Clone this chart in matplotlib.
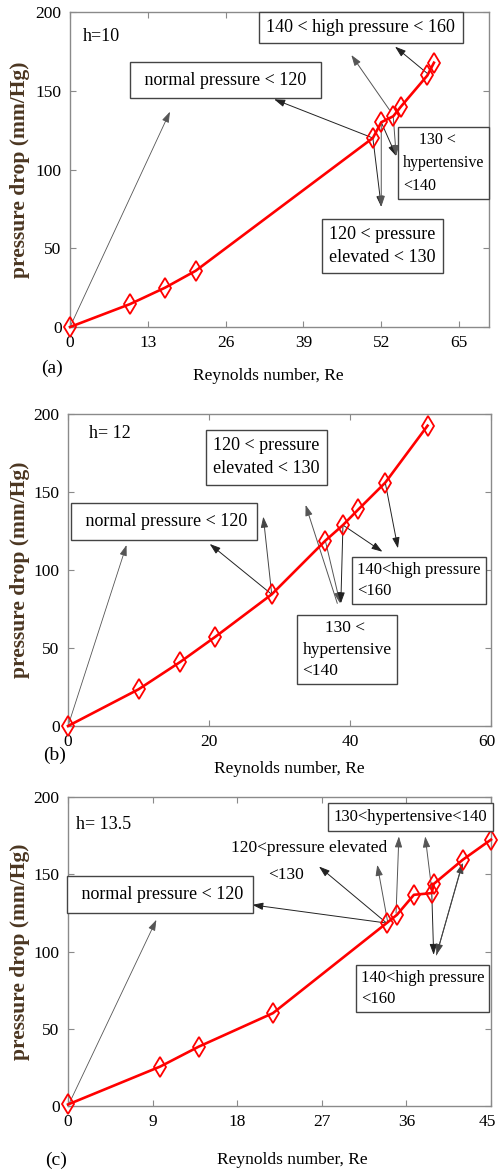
import matplotlib
matplotlib.use("Agg")
import matplotlib.pyplot as plt
from matplotlib.transforms import ScaledTranslation

plt.rcParams['font.family'] = ['Liberation Serif', 'DejaVu Serif']

# ---------------- data ----------------
re_a = [0, 10.0, 15.9, 21.0, 50.6, 52.0, 54.0, 55.3, 59.7, 60.8]
dp_a = [0, 14.5, 25.0, 35.7, 120.0, 130.0, 133.8, 140.0, 159.7, 167.8]

re_b = [0, 10.0, 15.9, 20.9, 28.9, 36.5, 39.0, 41.2, 45.0, 51.0]
dp_b = [0, 23.5, 41.0, 57.2, 84.4, 118.8, 128.8, 138.9, 156.0, 192.5]

re_c = [0, 9.8, 13.9, 21.8, 33.9, 35.0, 36.8, 38.7, 38.9, 42.0, 45.0]
dp_c = [1, 25.5, 38.4, 60.1, 118.4, 123.8, 136.7, 137.8, 143.7, 159.4, 172.4]

xticks_a = [0, 13, 26, 39, 52, 65]
xticks_b = [0, 20, 40, 60]
xticks_c = [0, 9, 18, 27, 36, 45]
yticks = [0, 50, 100, 150, 200]

h_labels = ["h=10", "h= 12", "h= 13.5"]
panel_labels = ["(a)", "(b)", "(c)"]
xlabel = "Reynolds number, Re"
ylabel = "pressure drop (mm/Hg)"

W, H = 498, 1173
fig = plt.figure(figsize=(W / 100, H / 100), dpi=100)

def px_axes(l, r, t, b):
    return fig.add_axes([l / W, 1 - b / H, (r - l) / W, (b - t) / H])

ax_a = px_axes(70, 489, 12, 327)
ax_b = px_axes(68, 491, 414, 726)
ax_c = px_axes(68, 491, 797, 1106)

spine_col = '#8a8a8a'
ycol = '#4b3621'
tick_fs = 12.5
box_fs = 13

def style(ax, x, y, xticks, xlim, nudge_last=False):
    ax.plot(x, y, color='red', lw=1.9, marker='d', markersize=10,
            markerfacecolor='none', markeredgecolor='red', markeredgewidth=1.3,
            clip_on=False, zorder=3)
    ax.set_xlim(*xlim)
    ax.set_ylim(0, 200)
    ax.set_xticks(xticks)
    ax.set_yticks(yticks)
    ax.tick_params(direction='in', length=4, width=0.8, color=spine_col,
                   top=True, right=True, labelsize=tick_fs, pad=6)
    for s in ax.spines.values():
        s.set_color(spine_col)
        s.set_linewidth(1.0)
    if nudge_last:
        lab = ax.xaxis.get_major_ticks()[-1].label1
        lab.set_transform(lab.get_transform() +
                          ScaledTranslation(-4 / 100, 0, fig.dpi_scale_trans))

style(ax_a, re_a, dp_a, xticks_a, (0, 70))
style(ax_b, re_b, dp_b, xticks_b, (0, 60), nudge_last=True)
style(ax_c, re_c, dp_c, xticks_c, (0, 45), nudge_last=True)

def bb(pad):
    return dict(boxstyle='square,pad=%s' % pad, facecolor='white',
                edgecolor='#444444', lw=1.0)

def arrow(ax, tail, head, col='#222222', lw=0.7):
    ax.annotate('', xy=head, xytext=tail,
                arrowprops=dict(arrowstyle='-|>,head_length=0.65,head_width=0.22',
                                color=col, lw=lw, shrinkA=0, shrinkB=0),
                annotation_clip=False, zorder=2)

def box(ax, x, y, s, fs=box_fs, pad=0.4, align='center', ls=1.35):
    ax.text(x, y, s, ha='center', va='center', fontsize=fs, bbox=bb(pad), zorder=4,
            linespacing=ls, multialignment=align)

# ---------------- panel (a) ----------------
ax = ax_a
ax.text(2.2, 184.5, h_labels[0], fontsize=13, va='center', ha='left')
box(ax, 48.6, 190.2, "140 < high pressure < 160")
box(ax, 26.0, 156.8, " normal pressure < 120 ", pad=0.55)
box(ax, 62.4, 104.0, "    130 <\nhypertensive\n<140", fs=11.5, pad=0.3, align='left', ls=1.6)
box(ax, 52.2, 51.6, "120 < pressure\nelevated < 130", ls=1.45)
arrow(ax, (0, 0), (16.7, 136.7), col='#555555', lw=0.6)
arrow(ax, (50.6, 120), (34.1, 144.6))
arrow(ax, (53.4, 137.7), (47.0, 172.7), col='#555555')
arrow(ax, (59.7, 161), (54.3, 178))
arrow(ax, (52.0, 130), (54.5, 108.5))
arrow(ax, (54.0, 133.8), (54.5, 108.5), col='#555555')
arrow(ax, (50.6, 120), (52.0, 76.3))
arrow(ax, (52.0, 130), (52.0, 76.3), col='#555555')

# ---------------- panel (b) ----------------
ax = ax_b
ax.text(3.0, 187.6, h_labels[1], fontsize=13, va='center', ha='left')
box(ax, 28.1, 172.2, "120 < pressure\nelevated < 130", ls=1.45)
box(ax, 13.6, 131.0, " normal pressure < 120", pad=0.55)
box(ax, 49.8, 93.3, "140<high pressure\n<160", fs=12, pad=0.3, align='left', ls=1.45)
box(ax, 39.6, 48.9, "     130 <\nhypertensive\n<140", fs=12.5, pad=0.3, align='left', ls=1.45)
arrow(ax, (0, 0), (8.3, 116), col='#555555', lw=0.6)
arrow(ax, (28.9, 84.4), (20.1, 116.7))
arrow(ax, (28.9, 84.4), (27.7, 134.2), col='#444444')
arrow(ax, (38.2, 78.6), (33.7, 141.7), col='#555555')
arrow(ax, (36.5, 118.8), (38.6, 78.6), col='#555555')
arrow(ax, (39.0, 128.8), (38.7, 78.6))
arrow(ax, (39.0, 128.8), (44.6, 111.7))
arrow(ax, (45.0, 156.0), (46.8, 113.9))

# ---------------- panel (c) ----------------
ax = ax_c
ax.text(0.9, 182, h_labels[2], fontsize=13, va='center', ha='left')
box(ax, 36.4, 187.0, "130<hypertensive<140", fs=12, pad=0.35)
ax.text(25.7, 167, "120<pressure elevated", fontsize=12.5, ha='center', va='center')
ax.text(23.2, 149.7, "<130", fontsize=12.5, ha='center', va='center')
box(ax, 9.8, 137.0, " normal pressure < 120", pad=0.55)
box(ax, 37.7, 76.0, "140<high pressure\n<160", fs=12, pad=0.3, align='left', ls=1.45)
arrow(ax, (0, 0), (9.4, 120.5), col='#555555', lw=0.6)
arrow(ax, (33.9, 118.4), (19.6, 130.2))
arrow(ax, (33.9, 118.4), (26.7, 155.0))
arrow(ax, (34.0, 119.4), (32.9, 156.1), col='#555555')
arrow(ax, (34.9, 124.8), (35.2, 174.5), col='#555555')
arrow(ax, (38.7, 140.0), (38.0, 174.5), col='#555555')
arrow(ax, (38.7, 137.8), (38.9, 97.8))
arrow(ax, (41.9, 156.0), (39.2, 97.8), col='#444444')
arrow(ax, (39.2, 97.8), (42.0, 157.5), col='#444444')

# ---------------- labels ----------------
for (yc, xc, xl_y, pl_x, pl_y, lab) in [
        ((12 + 327) / 2, 268, 376, 52, 368, panel_labels[0]),
        ((414 + 726) / 2, 289, 769, 55, 755, panel_labels[1]),
        ((797 + 1106) / 2, 292, 1160, 56, 1160, panel_labels[2])]:
    fig.text(20 / W, 1 - yc / H, ylabel, rotation=90, fontsize=15.5, fontweight='bold',
             color=ycol, ha='center', va='center')
    fig.text(xc / W, 1 - xl_y / H, xlabel, fontsize=12.5, ha='center', va='center')
    fig.text(pl_x / W, 1 - pl_y / H, lab, fontsize=14, ha='center', va='center')

fig.savefig('out.png', dpi=100)
